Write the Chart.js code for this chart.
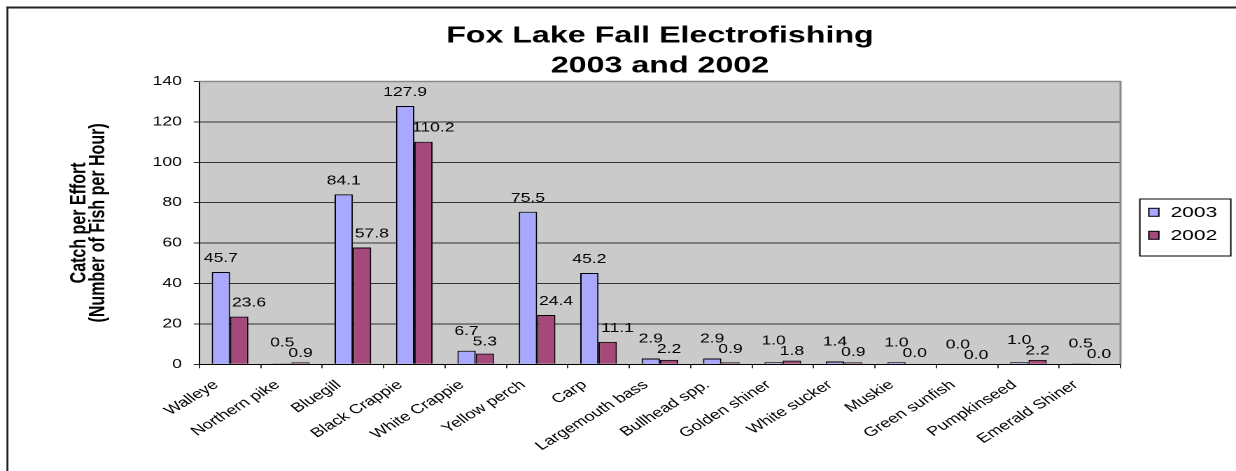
<!DOCTYPE html>
<html>
<head>
<meta charset="utf-8">
<script src="https://cdn.jsdelivr.net/npm/chart.js@4.4.1/dist/chart.umd.min.js"></script>
<style>
html, body { margin: 0; padding: 0; background: #fff; overflow: hidden; }
canvas { display: block; }
</style>
</head>
<body>
<!-- drawn narrow and stretched sideways, like the pasted Excel picture -->
<canvas id="fish" width="883" height="471" style="width:1236px;height:471px"></canvas>
<script>
var species = ['Walleye', 'Northern pike', 'Bluegill', 'Black Crappie', 'White Crappie', 'Yellow perch', 'Carp',
  'Largemouth bass', 'Bullhead spp.', 'Golden shiner', 'White sucker', 'Muskie', 'Green sunfish', 'Pumpkinseed', 'Emerald Shiner'];
var catch2003 = [45.7, 0.5, 84.1, 127.9, 6.7, 75.5, 45.2, 2.9, 2.9, 1.0, 1.4, 1.0, 0.0, 1.0, 0.5];
var catch2002 = [23.6, 0.9, 57.8, 110.2, 5.3, 24.4, 11.1, 2.2, 0.9, 1.8, 0.9, 0.0, 0.0, 2.2, 0.0];
var yTicks = [0, 20, 40, 60, 80, 100, 120, 140];

var fam = '"Liberation Sans", Arial, sans-serif';

// white page, the outer frame and the grey plot area
var frame = {
  id: 'frame',
  beforeDraw: function (chart) {
    var ctx = chart.ctx, a = chart.chartArea;
    ctx.save();
    ctx.fillStyle = '#fff';
    ctx.fillRect(0, 0, chart.width, chart.height);
    ctx.strokeStyle = '#222';
    ctx.lineWidth = 2;
    ctx.beginPath();
    ctx.moveTo(4.5, 7.5);
    ctx.lineTo(chart.width + 5, 7.5);
    ctx.stroke();
    ctx.lineWidth = 1.4;
    ctx.beginPath();
    ctx.moveTo(5.3, 6.5);
    ctx.lineTo(5.3, chart.height + 5);
    ctx.stroke();
    ctx.fillStyle = '#cacaca';
    ctx.fillRect(a.left, a.top, a.right - a.left, a.bottom - a.top);
    ctx.restore();
  },
  beforeDatasetsDraw: function (chart) {
    var ctx = chart.ctx, a = chart.chartArea;
    ctx.save();
    ctx.strokeStyle = '#8a8a8a';
    ctx.lineWidth = 1.5;
    ctx.beginPath();
    ctx.moveTo(a.left, a.top);
    ctx.lineTo(a.right, a.top);
    ctx.lineTo(a.right, a.bottom);
    ctx.stroke();
    ctx.restore();
  }
};

// values over the bars; when a pair would collide the 2003 one goes up
var valueLabels = {
  id: 'valueLabels',
  afterDatasetsDraw: function (chart) {
    var ctx = chart.ctx;
    var m0 = chart.getDatasetMeta(0), m1 = chart.getDatasetMeta(1);
    ctx.save();
    ctx.font = '12.5px ' + fam;
    ctx.fillStyle = '#000';
    ctx.textAlign = 'center';
    ctx.textBaseline = 'alphabetic';
    for (var i = 0; i < species.length; i++) {
      var t0 = catch2003[i].toFixed(1), t1 = catch2002[i].toFixed(1);
      var w0 = ctx.measureText(t0).width, w1 = ctx.measureText(t1).width;
      var x0 = m0.data[i].x, x1 = m1.data[i].x;
      var y0 = m0.data[i].y - 10, y1 = m1.data[i].y - 10;
      var hit = Math.abs(x1 - x0) < (w0 + w1) / 2 + 1 && Math.abs(y1 - y0) < 9;
      if (hit) {
        y0 = Math.min(y0, y1) - 6;
        y1 = y0 + 10.5;
      } else {
        x1 += 7;
      }
      ctx.fillText(t0, x0, y0);
      ctx.fillText(t1, x1, y1);
    }
    ctx.restore();
  }
};

// boxed legend to the right of the plot
var legendBox = {
  id: 'legendBox',
  afterDraw: function (chart) {
    var ctx = chart.ctx, a = chart.chartArea, sets = chart.data.datasets;
    var w = 65, h = 57;
    var left = a.right + 13.8;
    var top = (a.top + a.bottom) / 2 + 4.6 - h / 2;
    ctx.save();
    ctx.fillStyle = '#fff';
    ctx.fillRect(left, top, w, h);
    ctx.strokeStyle = '#000';
    ctx.lineWidth = 1;
    ctx.strokeRect(left, top, w, h);
    ctx.font = '15px ' + fam;
    ctx.textBaseline = 'middle';
    sets.forEach(function (ds, i) {
      var cy = top + 13.3 + i * 23;
      ctx.fillStyle = ds.backgroundColor;
      ctx.fillRect(left + 6.4, cy - 4, 7.2, 8);
      ctx.strokeStyle = '#000';
      ctx.strokeRect(left + 6.4, cy - 4, 7.2, 8);
      ctx.fillStyle = '#000';
      ctx.fillText(ds.label, left + 21.9, cy + 0.5);
    });
    ctx.restore();
  }
};

new Chart(document.getElementById('fish'), {
  type: 'bar',
  data: {
    labels: species,
    datasets: [
      { label: '2003', data: catch2003, backgroundColor: '#a8a8ff', borderColor: '#000', borderWidth: 1 },
      { label: '2002', data: catch2002, backgroundColor: '#a5487a', borderColor: '#000', borderWidth: 1 }
    ]
  },
  options: {
    responsive: false,
    animation: false,
    devicePixelRatio: 2,
    layout: { padding: { left: 0, top: 0, right: 82.5, bottom: 0 } },
    datasets: { bar: { categoryPercentage: 0.596, barPercentage: 1 } },
    plugins: {
      legend: { display: false },
      tooltip: { enabled: false },
      title: {
        display: true,
        fullSize: false,
        text: ['Fox Lake Fall Electrofishing', '2003 and 2002'],
        color: '#000',
        font: { family: fam, size: 23, weight: 'bold', lineHeight: '30px' },
        padding: { top: 21.3, bottom: 0.2 }
      }
    },
    scales: {
      x: {
        grid: { offset: true, drawOnChartArea: false, tickLength: 4, color: '#333' },
        border: { color: '#000' },
        ticks: {
          autoSkip: false, minRotation: 40, maxRotation: 40, padding: 9, labelOffset: -10,
          color: '#000', font: { family: fam, size: 13 }
        },
        afterFit: function (s) { s.height = 106.7; }
      },
      y: {
        min: 0,
        max: 140,
        afterBuildTicks: function (s) { s.ticks = yTicks.map(function (v) { return { value: v }; }); },
        grid: { color: '#333', tickLength: 4 },
        border: { color: '#000' },
        ticks: { padding: 8.5, color: '#000', font: { family: fam, size: 12.5 } },
        title: {
          display: true,
          text: ['Catch per Effort', '(Number of Fish per Hour)'],
          color: '#000',
          font: { family: fam, size: 16, weight: 'bold', lineHeight: '13.5px' },
          padding: { top: 50, bottom: 0 }
        },
        afterFit: function (s) { s.width = 142.4; }
      }
    }
  },
  plugins: [frame, valueLabels, legendBox]
});
</script>
</body>
</html>
